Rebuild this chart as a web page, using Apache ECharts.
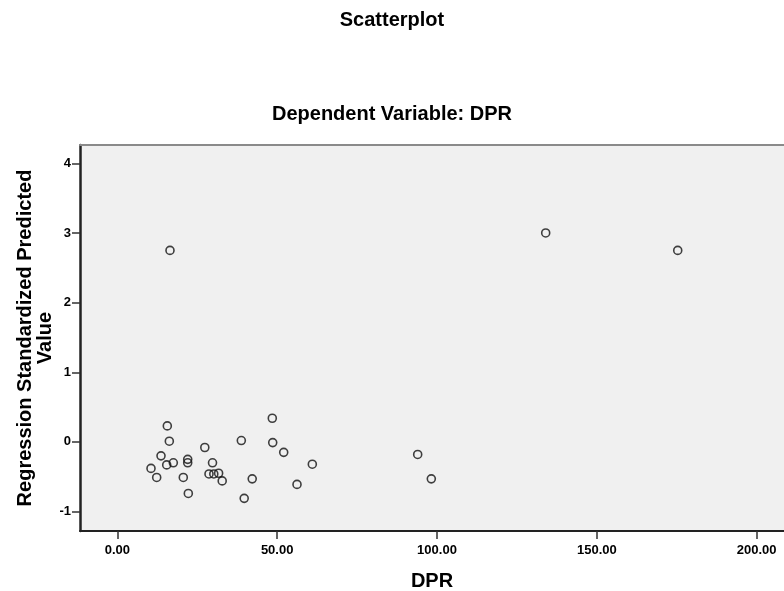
<!DOCTYPE html>
<html>
<head>
<meta charset="utf-8">
<script src="https://cdn.jsdelivr.net/npm/echarts@6/dist/echarts.min.js"></script>
<style>
html,body{margin:0;padding:0;background:#fff;}
#chart{width:784px;height:591px;}
</style>
</head>
<body>
<div id="chart"></div>
<script>
const dpr = [15.64, 16.27, 13.67, 15.45, 17.52, 10.54, 12.32, 22.02, 22.02, 20.64, 22.21,
  27.37, 29.78, 28.68, 30.18, 31.69, 32.81, 38.79, 39.69, 42.20, 48.48, 48.61, 52.05,
  56.21, 61.00, 93.96, 98.22, 16.48, 134.00, 175.30];
const predicted = [0.23, 0.01, -0.20, -0.33, -0.30, -0.38, -0.51, -0.25, -0.30, -0.51, -0.74,
  -0.08, -0.30, -0.46, -0.46, -0.45, -0.56, 0.02, -0.81, -0.53, 0.34, -0.01, -0.15,
  -0.61, -0.32, -0.18, -0.53, 2.75, 3.00, 2.75];
const xTicks = [0, 50, 100, 150, 200];
const yTicks = [-1, 0, 1, 2, 3, 4];
const titleText = 'Scatterplot';
const subtitleText = 'Dependent Variable: DPR';
const xName = 'DPR';
const yName = 'Regression Standardized Predicted\nValue';

const points = dpr.map((x, i) => [x, predicted[i]]);
const font = 'Liberation Sans, Arial, sans-serif';

const chart = echarts.init(document.getElementById('chart'), null, {renderer: 'canvas'});
chart.setOption({
  animation: false,
  backgroundColor: '#ffffff',
  title: [
    {text: titleText, left: 'center', top: 5,
     textStyle: {fontFamily: font, fontSize: 20, fontWeight: 'bold', color: '#000'}},
    {text: subtitleText, left: 'center', top: 99,
     textStyle: {fontFamily: font, fontSize: 20, fontWeight: 'bold', color: '#000'}}
  ],
  grid: {left: 80, top: 145, right: 0, bottom: 60, show: true,
         backgroundColor: '#f0f0f0', borderWidth: 0, containLabel: false,
         outerBoundsMode: 'none'},
  xAxis: [{
    type: 'value', min: -11.67, max: 208.54, position: 'bottom',
    name: xName, nameLocation: 'middle', nameGap: 40,
    nameTextStyle: {fontFamily: font, fontSize: 20, fontWeight: 'bold', color: '#000'},
    axisLine: {show: true, onZero: false, lineStyle: {color: '#222', width: 2}},
    axisTick: {show: true, customValues: xTicks, length: 8, lineStyle: {color: '#333', width: 1.5}},
    axisLabel: {show: true, customValues: xTicks, margin: 13,
      formatter: v => v.toFixed(2),
      fontFamily: font, fontSize: 13, fontWeight: 'bold', color: '#000'},
    splitLine: {show: false}
  }, {
    type: 'value', min: -11.67, max: 208.54, position: 'top',
    axisLine: {show: true, onZero: false, lineStyle: {color: '#8a8a8a', width: 2}},
    axisTick: {show: false}, axisLabel: {show: false}, splitLine: {show: false}
  }],
  yAxis: {
    type: 'value', min: -1.279, max: 4.263,
    name: yName, nameLocation: 'middle', nameGap: 25, nameRotate: 90,
    nameMoveOverlap: false,
    nameTextStyle: {fontFamily: font, fontSize: 20, fontWeight: 'bold', color: '#000', lineHeight: 20, align: 'center'},
    axisLine: {show: true, onZero: false, lineStyle: {color: '#222', width: 2.5}},
    axisTick: {show: true, customValues: yTicks, length: 8, lineStyle: {color: '#333', width: 1.5}},
    axisLabel: {show: true, customValues: yTicks, margin: 9,
      fontFamily: font, fontSize: 13, fontWeight: 'bold', color: '#000'},
    splitLine: {show: false}
  },
  series: [{
    type: 'scatter', xAxisIndex: 0,
    data: points,
    symbol: 'circle', symbolSize: 8,
    itemStyle: {color: 'rgba(0,0,0,0)', borderColor: '#111', borderWidth: 1.6}
  }]
});
</script>
</body>
</html>
